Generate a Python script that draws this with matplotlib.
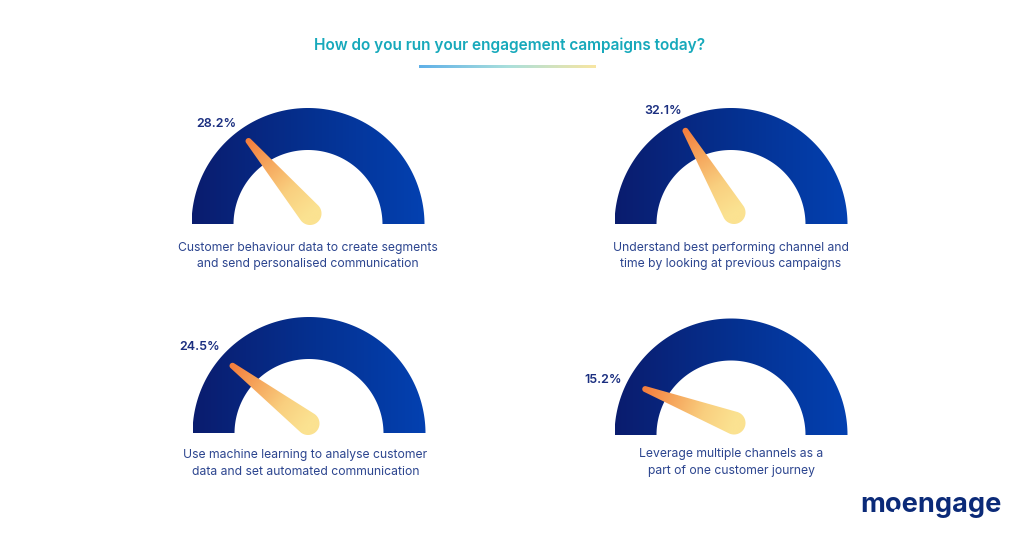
import numpy as np
import matplotlib
matplotlib.use("Agg")
import matplotlib.pyplot as plt
from matplotlib.colors import LinearSegmentedColormap
from matplotlib.patches import Polygon, Circle

plt.rcParams['font.family'] = ['Inter', 'DejaVu Sans']

# values
values = ["28.2%", "32.1%", "24.5%", "15.2%"]
needle_deg = [49.7, 59.3, 37.4, 20.9]
captions = [
    "Customer behaviour data to create segments\nand send personalised communication",
    "Understand best performing channel and\ntime by looking at previous campaigns",
    "Use machine learning to analyse customer\ndata and set automated communication",
    "Leverage multiple channels as a\npart of one customer journey",
]
title = "How do you run your engagement campaigns today?"

# layout, in reference pixels
centers = [(308, 224.5), (731, 224.5), (309, 433.5), (731, 435)]
hub_offset = [(2, -11), (3, -12), (-1, -10), (3, -12)]
label_pos = [(216, 124), (663, 111), (200, 347), (603, 380)]
caption_pos = [(308, 256), (731, 256), (305.5, 463.5), (731, 462.5)]
outer_r, inner_r = 116.5, 74.5
needle_len, tip_r, hub_r = 95, 3, 11.5

NAVY = "#1b2f80"
CAPTION = "#2c458f"
arc_cmap = LinearSegmentedColormap.from_list("arc", ["#0a1c6e", "#05308f", "#0341b1"])
needle_cmap = LinearSegmentedColormap.from_list("needle", ["#f47f3e", "#f6a85e", "#f9cf7f", "#fbe291"])
line_cmap = LinearSegmentedColormap.from_list("line", ["#5fb0e8", "#a9dfdc", "#f8e6a2"])


def gauge(ax, cx, cy):
    t = np.linspace(np.pi, 0, 120)
    xs = np.r_[cx + outer_r * np.cos(t), cx + inner_r * np.cos(t[::-1])]
    ys = np.r_[cy - outer_r * np.sin(t), cy - inner_r * np.sin(t[::-1])]
    poly = Polygon(np.c_[xs, ys], closed=True, fc="none", ec="none")
    ax.add_patch(poly)
    grad = np.linspace(0, 1, 256).reshape(1, -1)
    im = ax.imshow(grad, cmap=arc_cmap, aspect="auto",
                   extent=(cx - outer_r, cx + outer_r, cy, cy - outer_r), zorder=2)
    im.set_clip_path(poly)


def needle(ax, hx, hy, deg):
    a = np.radians(deg)
    tx, ty = hx - needle_len * np.cos(a), hy - needle_len * np.sin(a)
    # hull of the small tip circle and the round hub
    base = np.arctan2(hy - ty, hx - tx)
    s = np.pi / 2 + np.arcsin((hub_r - tip_r) / needle_len)
    tip_t = np.linspace(base + s, base + 2 * np.pi - s, 30)
    hub_t = np.linspace(base - s, base + s, 60)
    pts = np.r_[np.c_[tx + tip_r * np.cos(tip_t), ty + tip_r * np.sin(tip_t)],
                np.c_[hx + hub_r * np.cos(hub_t), hy + hub_r * np.sin(hub_t)]]
    poly = Polygon(pts, closed=True, fc="none", ec="none")
    ax.add_patch(poly)
    x0, x1 = min(tx, hx) - 15, max(tx, hx) + 15
    y0, y1 = min(ty, hy) - 15, max(ty, hy) + 15
    gx, gy = np.meshgrid(np.linspace(x0, x1, 200), np.linspace(y0, y1, 200))
    grad = ((gx - tx) * np.cos(base) + (gy - ty) * np.sin(base)) / needle_len
    im = ax.imshow(np.clip(grad, 0, 1), cmap=needle_cmap, aspect="auto",
                   extent=(x0, x1, y1, y0), zorder=3, vmin=0, vmax=1)
    im.set_clip_path(poly)


fig = plt.figure(figsize=(10.24, 5.36), dpi=100)
ax = fig.add_axes([0, 0, 1, 1])

ax.text(510, 45, title, color="#17a9bb", fontsize=11.1, fontweight="semibold",
        ha="center", va="center")
ax.imshow(np.linspace(0, 1, 256).reshape(1, -1), cmap=line_cmap, aspect="auto",
          extent=(419, 596, 68.5, 65.5), zorder=2)

for (cx, cy), off, deg, val, lab, cap, cpos in zip(centers, hub_offset, needle_deg,
                                                   values, label_pos, captions, caption_pos):
    gauge(ax, cx, cy)
    needle(ax, cx + off[0], cy + off[1], deg)
    ax.text(lab[0], lab[1], val, color=NAVY, fontsize=9, fontweight="semibold",
            ha="center", va="center")
    ax.text(cpos[0], cpos[1], cap, color=CAPTION, fontsize=8.75, ha="center", va="center",
            linespacing=1.5)

# logo, as text, with the notch in the o
ax.text(931, 505, "moengage", color="#0b2a78", fontsize=19.5, fontweight="bold",
        ha="center", va="center")
ax.add_patch(Circle((896.5, 511.5), 2.6, fc="white", ec="none", zorder=4))

ax.set_xlim(0, 1024)
ax.set_ylim(536, 0)
ax.axis("off")
fig.savefig("out.png", dpi=100)
